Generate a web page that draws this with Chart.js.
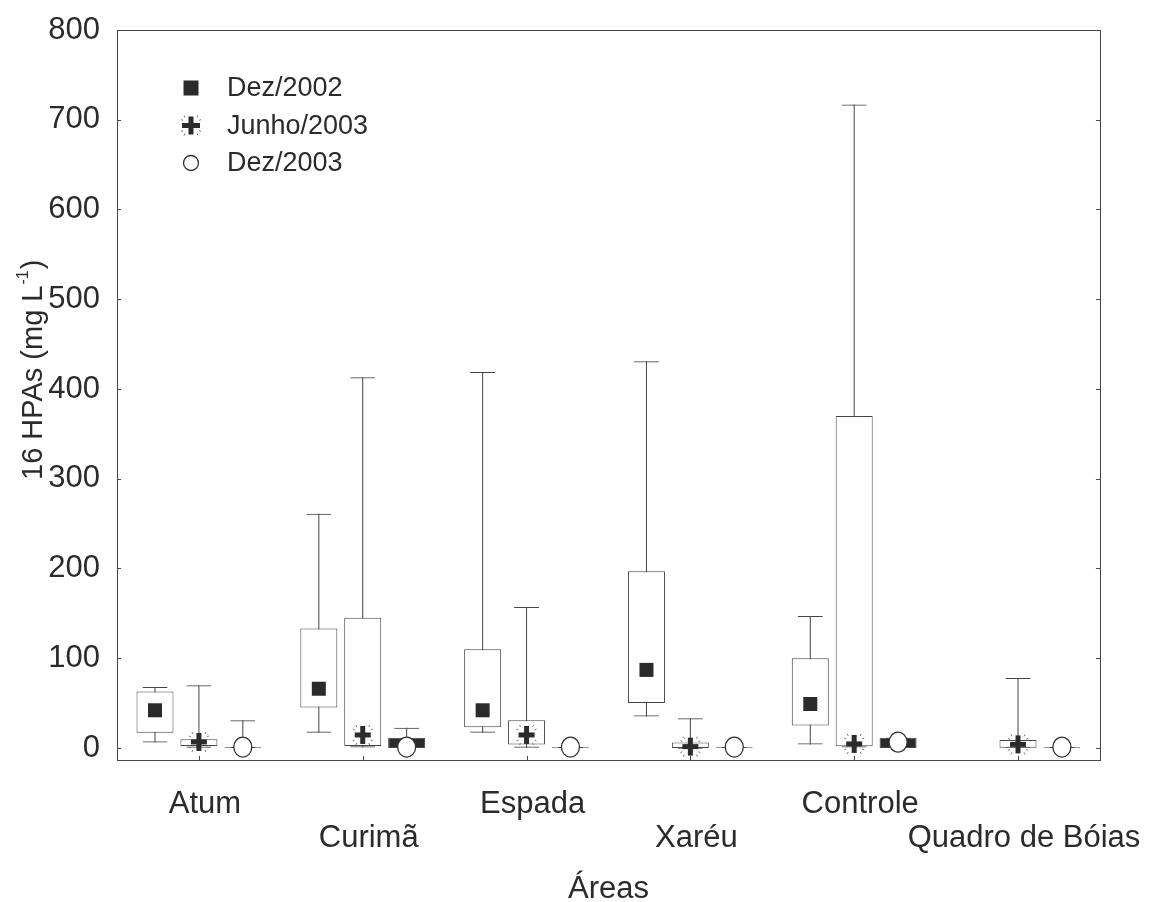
<!DOCTYPE html>
<html lang="pt">
<head>
    <meta charset="UTF-8">
    <title>16 HPAs por área</title>
    <script src="https://cdn.jsdelivr.net/npm/chart.js"></script>
    <style>
        * { margin: 0; padding: 0; box-sizing: border-box; }
        body { background: #fff; }
        .wrap { width: 1158px; height: 902px; }
    </style>
</head>
<body>
    <div class="wrap"><canvas id="boxChart"></canvas></div>

    <script>
        // categories and series
        const categories = ['Atum', 'Curimã', 'Espada', 'Xaréu', 'Controle', 'Quadro de Bóias'];
        const seriesNames = ['Dez/2002', 'Junho/2003', 'Dez/2003'];
        const yTicks = [0, 100, 200, 300, 400, 500, 600, 700, 800];

        // Dez/2002 (no sample at Quadro de Bóias)
        const dez02Min    = [6, 17, 17, 35, 4, null];
        const dez02Q1     = [17, 45, 23, 50, 25, null];
        const dez02Median = [42, 66, 42, 87, 49, null];
        const dez02Q3     = [63, 133, 110, 197, 100, null];
        const dez02Max    = [68, 261, 419, 431, 147, null];

        // Junho/2003
        const jun03Min    = [0.3, 0.5, 0.3, -1, 0.5, 0.3];
        const jun03Q1     = [2.2, 2.2, 4, 0, 2, 0.3];
        const jun03Median = [6.7, 14.5, 14.5, 1.5, 4.5, 4];
        const jun03Q3     = [9.7, 145, 31, 6, 370, 9];
        const jun03Max    = [70, 413, 157, 33, 717, 78];

        // Dez/2003
        const dez03Min    = [0, 0, 0, 0, 0, 0];
        const dez03Q1     = [0.3, 0, 0.3, 0.3, 0, 0.3];
        const dez03Median = [1, 1, 1, 1, 6.5, 1];
        const dez03Q3     = [1.2, 11.5, 1.2, 1.2, 11.5, 1.2];
        const dez03Max    = [31, 22.6, 1.2, 1.2, 11.5, 1.2];

        const mins    = [dez02Min, jun03Min, dez03Min];
        const q1s     = [dez02Q1, jun03Q1, dez03Q1];
        const medians = [dez02Median, jun03Median, dez03Median];
        const q3s     = [dez02Q3, jun03Q3, dez03Q3];
        const maxs    = [dez02Max, jun03Max, dez03Max];

        const LINE = '#454545';
        const INK = '#2b2b2b';
        const FONT = "'Liberation Sans', Arial, sans-serif";
        Chart.defaults.font.family = FONT;
        Chart.defaults.color = INK;

        // the two tiny Dez/2003 boxes are drawn filled in the original
        const boxFills = [
            '#ffffff',
            '#ffffff',
            ['#ffffff', INK, '#ffffff', '#ffffff', INK, '#ffffff']
        ];

        function pairs(lo, hi) {
            return lo.map((v, i) => (v == null || hi[i] == null) ? null : [v, hi[i]]);
        }

        const datasets = [];
        seriesNames.forEach((name, k) => {
            // box (index 3k), caps (3k+1), stem (3k+2)
            datasets.push({
                label: name,
                data: pairs(q1s[k], q3s[k]),
                stack: 's' + k,
                order: 0,
                backgroundColor: boxFills[k],
                borderColor: LINE,
                borderWidth: 1,
                borderSkipped: false,
                maxBarThickness: 37
            });
            datasets.push({
                label: name + ' caps',
                data: pairs(mins[k], maxs[k]),
                stack: 's' + k,
                order: 1,
                backgroundColor: 'rgba(0,0,0,0)',
                borderColor: LINE,
                borderWidth: { top: 1, bottom: 1, left: 0, right: 0 },
                borderSkipped: false,
                maxBarThickness: 25
            });
            datasets.push({
                label: name + ' stem',
                data: pairs(mins[k], maxs[k]),
                stack: 's' + k,
                order: 2,
                backgroundColor: LINE,
                borderWidth: 0,
                maxBarThickness: 1
            });
        });

        function drawMarker(ctx, k, cx, cy, small) {
            ctx.save();
            if (k === 0) {
                const s = small ? 15 : 14;
                ctx.fillStyle = INK;
                ctx.fillRect(cx - s / 2, cy - s / 2, s, s);
            } else if (k === 1) {
                const w = small ? 18 : 16, h = 18, t = 5;
                ctx.fillStyle = INK;
                ctx.fillRect(cx - w / 2, cy - t / 2, w, t);
                ctx.fillRect(cx - t / 2, cy - h / 2, t, h);
                // little rays around the cross
                ctx.strokeStyle = '#777';
                ctx.lineWidth = 1;
                ctx.beginPath();
                [[-1, -1], [1, -1], [-1, 1], [1, 1]].forEach(([dx, dy]) => {
                    ctx.moveTo(cx + dx * 6, cy + dy * 8);
                    ctx.lineTo(cx + dx * 7, cy + dy * 10);
                    ctx.moveTo(cx + dx * 8, cy + dy * 5);
                    ctx.lineTo(cx + dx * 10, cy + dy * 6);
                });
                ctx.stroke();
            } else {
                const rx = small ? 7.5 : 9, ry = small ? 7.5 : 10;
                ctx.beginPath();
                ctx.ellipse(cx, cy, rx, ry, 0, 0, Math.PI * 2);
                ctx.fillStyle = '#fff';
                ctx.fill();
                ctx.strokeStyle = '#333';
                ctx.lineWidth = 1.3;
                ctx.stroke();
            }
            ctx.restore();
        }

        const boxExtras = {
            id: 'boxExtras',
            afterDatasetsDraw(chart) {
                const { ctx, scales: { y } } = chart;
                medians.forEach((arr, k) => {
                    const meta = chart.getDatasetMeta(k * 3);
                    arr.forEach((v, i) => {
                        if (v == null || !meta.data[i]) return;
                        drawMarker(ctx, k, meta.data[i].x, y.getPixelForValue(v), false);
                    });
                });
            },
            afterDraw(chart) {
                const { ctx, chartArea: a, scales: { x, y } } = chart;
                ctx.save();
                // frame
                ctx.strokeStyle = LINE;
                ctx.lineWidth = 1;
                ctx.strokeRect(Math.round(a.left) + 0.5, Math.round(a.top) + 0.5,
                    Math.round(a.right - a.left), Math.round(a.bottom - a.top));
                // inward ticks
                ctx.beginPath();
                y.ticks.forEach(t => {
                    const py = Math.round(y.getPixelForValue(t.value)) + 0.5;
                    ctx.moveTo(a.left, py); ctx.lineTo(a.left + 4, py);
                    ctx.moveTo(a.right, py); ctx.lineTo(a.right - 4, py);
                });
                categories.forEach((c, i) => {
                    const px = Math.round(x.getPixelForValue(i)) + 0.5;
                    ctx.moveTo(px, a.bottom); ctx.lineTo(px, a.bottom - 4);
                });
                ctx.stroke();

                // legend
                ctx.font = '27px ' + FONT;
                ctx.fillStyle = INK;
                ctx.textBaseline = 'middle';
                ctx.textAlign = 'left';
                seriesNames.forEach((name, k) => {
                    const ly = a.top + 58 + k * 37.5;
                    drawMarker(ctx, k, a.left + 74, ly, true);
                    ctx.fillStyle = INK;
                    ctx.fillText(name, a.left + 110, ly + 1);
                });

                // y axis title with superscript
                ctx.save();
                ctx.translate(42, 480);
                ctx.rotate(-Math.PI / 2);
                ctx.textBaseline = 'alphabetic';
                ctx.font = '29px ' + FONT;
                const main = '16 HPAs (mg L';
                ctx.fillText(main, 0, 0);
                let w = ctx.measureText(main).width;
                ctx.font = '16px ' + FONT;
                ctx.fillText('-1', w + 1, -14);
                w += ctx.measureText('-1').width + 2;
                ctx.font = '29px ' + FONT;
                ctx.fillText(')', w, 0);
                ctx.restore();
                ctx.restore();
            }
        };

        new Chart(document.getElementById('boxChart'), {
            type: 'bar',
            data: { labels: categories, datasets: datasets },
            plugins: [boxExtras],
            options: {
                responsive: true,
                maintainAspectRatio: false,
                animation: false,
                layout: { padding: { top: 30, right: 56, left: 0, bottom: 0 } },
                datasets: { bar: { categoryPercentage: 0.804, barPercentage: 1, grouped: true } },
                plugins: {
                    legend: { display: false },
                    tooltip: { enabled: false }
                },
                scales: {
                    x: {
                        stacked: true,
                        grid: { display: false },
                        border: { display: false },
                        ticks: {
                            autoSkip: false,
                            maxRotation: 0,
                            minRotation: 0,
                            padding: 19,
                            labelOffset: 6,
                            color: INK,
                            font: { size: 31, lineHeight: '34px' },
                            callback: (v, i) => i % 2 ? ['', categories[i]] : [categories[i], '']
                        },
                        title: {
                            display: true,
                            text: 'Áreas',
                            color: INK,
                            font: { size: 31, lineHeight: 0.8 },
                            padding: { top: 0, bottom: 0 }
                        },
                        afterFit: s => { s.height = 142; }
                    },
                    y: {
                        stacked: false,
                        min: -13.4,
                        max: 800,
                        grid: { display: false },
                        border: { display: false },
                        afterBuildTicks: s => { s.ticks = yTicks.map(v => ({ value: v })); },
                        ticks: {
                            padding: 9,
                            color: INK,
                            font: { size: 31 }
                        },
                        afterFit: s => { s.width = 117; }
                    }
                }
            }
        });
    </script>
</body>
</html>
